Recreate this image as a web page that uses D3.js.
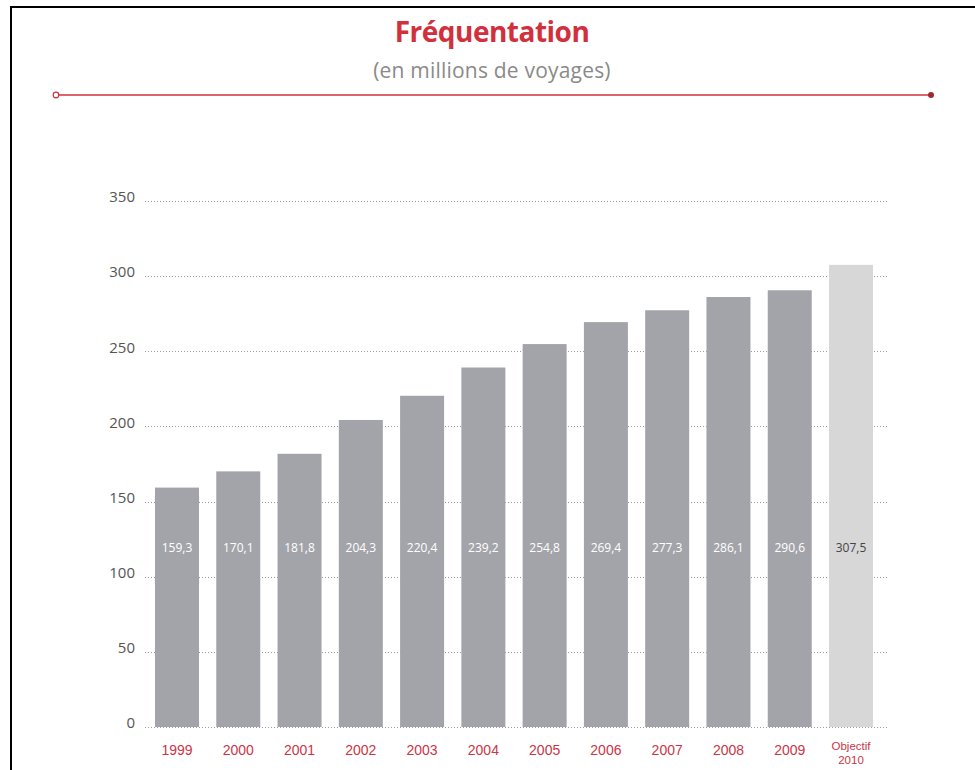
<!DOCTYPE html>
<html>
<head>
<meta charset="utf-8">
<script src="https://cdn.jsdelivr.net/npm/d3@7"></script>
<style>
  html, body { margin: 0; padding: 0; background: #fff; }
  svg { display: block; font-family: "Open Sans", "Noto Sans", sans-serif; }
</style>
</head>
<body>
<svg id="chart" width="975" height="770"></svg>
<script>
const categories = ["1999","2000","2001","2002","2003","2004","2005","2006","2007","2008","2009","Objectif 2010"];
const values = [159.3,170.1,181.8,204.3,220.4,239.2,254.8,269.4,277.3,286.1,290.6,307.5];
const valueLabels = ["159,3","170,1","181,8","204,3","220,4","239,2","254,8","269,4","277,3","286,1","290,6","307,5"];
const yTicks = [0,50,100,150,200,250,300,350];
const titleText = "Fréquentation";
const subtitleText = "(en millions de voyages)";

const svg = d3.select("#chart");
const W = 975, H = 770;

// frame
svg.append("line").attr("x1", 11).attr("x2", W).attr("y1", 7).attr("y2", 7)
  .attr("stroke", "#000").attr("stroke-width", 2);
svg.append("line").attr("x1", 11).attr("x2", 11).attr("y1", 6).attr("y2", H)
  .attr("stroke", "#000").attr("stroke-width", 2);

// title
svg.append("text").attr("x", 492).attr("y", 42).attr("text-anchor", "middle")
  .attr("font-size", 28).attr("font-weight", 700).attr("fill", "#d2303c")
  .attr("letter-spacing", -0.5)
  .text(titleText);
svg.append("text").attr("x", 492).attr("y", 78).attr("text-anchor", "middle")
  .attr("font-size", 21).attr("fill", "#8a8a8a").attr("letter-spacing", 0.2)
  .text(subtitleText);

// red rule
svg.append("line").attr("x1", 57).attr("x2", 931).attr("y1", 95).attr("y2", 95)
  .attr("stroke", "#d2303c").attr("stroke-width", 1.5);
svg.append("circle").attr("cx", 56).attr("cy", 95).attr("r", 2.8)
  .attr("fill", "#fff").attr("stroke", "#d2303c").attr("stroke-width", 1.2);
svg.append("circle").attr("cx", 931).attr("cy", 95).attr("r", 3)
  .attr("fill", "#a0282f");

// scales
const plotLeft = 145, plotRight = 888;
const y = d3.scaleLinear().domain([0, 350]).range([727, 201]);
const x = d3.scaleBand().domain(categories)
  .range([155, 873]).paddingInner(0.282).paddingOuter(0);

// gridlines
const grid = svg.append("g");
grid.selectAll("line").data(yTicks).join("line")
  .attr("x1", plotLeft).attr("x2", plotRight)
  .attr("y1", d => Math.round(y(d)) + 0.5).attr("y2", d => Math.round(y(d)) + 0.5)
  .attr("stroke", "#9a9a9a").attr("stroke-width", 1).attr("stroke-dasharray", "1,2");

// y axis
const yAxis = d3.axisLeft(y).tickValues(yTicks).tickSize(0).tickPadding(0);
const yg = svg.append("g").attr("transform", "translate(135,0)").call(yAxis);
yg.select(".domain").remove();
yg.selectAll("text").attr("font-size", 15).attr("fill", "#555")
  .attr("font-family", "'Open Sans', sans-serif").attr("dy", "0.05em");

// bars
svg.append("g").selectAll("rect").data(categories).join("rect")
  .attr("x", d => x(d)).attr("width", x.bandwidth())
  .attr("y", (d, i) => y(values[i])).attr("height", (d, i) => y(0) - y(values[i]))
  .attr("fill", (d, i) => i === categories.length - 1 ? "#d7d7d7" : "#a3a4a9");

// value labels
svg.append("g").selectAll("text").data(categories).join("text")
  .attr("x", d => x(d) + x.bandwidth() / 2).attr("y", 552)
  .attr("text-anchor", "middle").attr("font-size", 12)
  .attr("fill", (d, i) => i === categories.length - 1 ? "#444" : "#fff")
  .text((d, i) => valueLabels[i]);

// x axis
const xAxis = d3.axisBottom(x).tickSize(0).tickPadding(0).tickFormat("");
const xg = svg.append("g").attr("transform", "translate(0,727)").call(xAxis);
xg.select(".domain").remove();
xg.selectAll(".tick").each(function(d) {
  const g = d3.select(this);
  const parts = d.split(" ");
  if (parts.length === 1) {
    g.append("text").attr("y", 28).attr("text-anchor", "middle")
      .attr("font-size", 14).attr("fill", "#cc3545").text(d);
  } else {
    g.append("text").attr("y", 23).attr("text-anchor", "middle")
      .attr("font-size", 11.5).attr("fill", "#cc3545").text(parts[0]);
    g.append("text").attr("y", 37).attr("text-anchor", "middle")
      .attr("font-size", 11.5).attr("fill", "#cc3545").text(parts[1]);
  }
});
</script>
</body>
</html>
